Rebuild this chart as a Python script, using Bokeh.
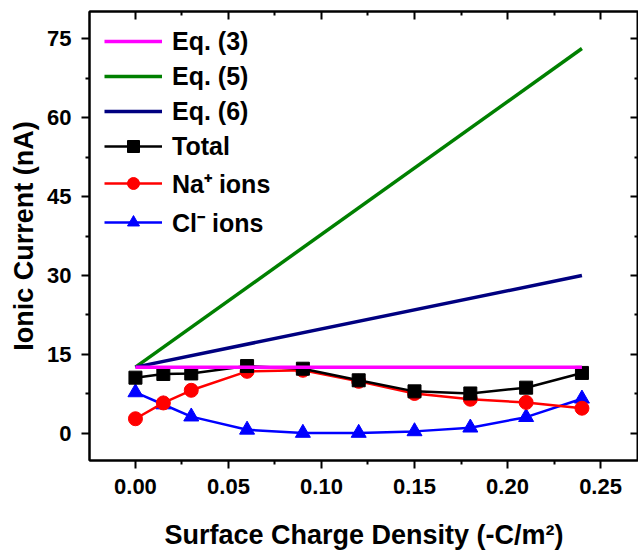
from bokeh.plotting import figure
from bokeh.models import LinearAxis, Legend, LegendItem, FixedTicker, Range1d
from bokeh.embed import file_html
from bokeh.resources import INLINE

# ---- data ----
sigma = [0.0, 0.015, 0.03, 0.06, 0.09, 0.12, 0.15, 0.18, 0.21, 0.24]
total = [10.6, 11.3, 11.4, 12.8, 12.3, 10.1, 8.0, 7.6, 8.7, 11.5]
na_ions = [2.8, 5.8, 8.2, 11.8, 12.0, 9.9, 7.6, 6.5, 5.9, 4.8]
cl_ions = [7.8, 5.5, 3.2, 0.7, 0.1, 0.1, 0.4, 1.1, 3.1, 6.6]
eq_x = [0.0, 0.24]
eq3 = [12.6, 12.6]
eq5 = [12.6, 73.1]
eq6 = [12.6, 30.0]

x_ticks = [0.0, 0.05, 0.10, 0.15, 0.20, 0.25]
x_minor = [0.025, 0.075, 0.125, 0.175, 0.225]
y_ticks = [0, 15, 30, 45, 60, 75]
y_minor = [7.5, 22.5, 37.5, 52.5, 67.5]

FONT = "Liberation Sans"

p = figure(width=638, height=554,
           x_range=Range1d(-0.0247, 0.2704), y_range=Range1d(-5.13, 80.13),
           output_backend="svg", toolbar_location=None,
           min_border_left=89, min_border_right=0, min_border_top=11, min_border_bottom=94)
p.xgrid.visible = False
p.ygrid.visible = False
p.outline_line_color = "black"
p.outline_line_width = 2
p.background_fill_color = "white"

xt = FixedTicker(ticks=x_ticks, minor_ticks=x_minor)
yt = FixedTicker(ticks=y_ticks, minor_ticks=y_minor)

def style_main(ax, ticker):
    ax.ticker = ticker
    ax.axis_line_width = 2
    ax.major_tick_line_width = 2
    ax.minor_tick_line_width = 2
    ax.major_tick_out = 8
    ax.major_tick_in = 0
    ax.minor_tick_out = 4
    ax.minor_tick_in = 0
    ax.major_label_text_font = FONT
    ax.major_label_text_font_style = "bold"
    ax.major_label_text_font_size = "22px"
    ax.major_label_text_color = "black"
    ax.axis_label_text_font = FONT
    ax.axis_label_text_font_style = "bold"
    ax.axis_label_text_font_size = "27px"
    ax.axis_label_text_color = "black"

xa = p.xaxis[0]
ya = p.yaxis[0]
style_main(xa, xt)
style_main(ya, yt)
xa.axis_label = "Surface Charge Density (-C/m²)"
ya.axis_label = "Ionic Current (nA)"
xa.major_label_overrides = {0.0: "0.00", 0.05: "0.05", 0.10: "0.10", 0.15: "0.15", 0.20: "0.20", 0.25: "0.25"}
xa.major_label_standoff = 10
xa.axis_label_standoff = 23
ya.major_label_standoff = 10
ya.axis_label_standoff = 5

def mirror(ticker):
    ax = LinearAxis(ticker=ticker, axis_line_width=2,
                    major_tick_line_width=2, minor_tick_line_width=2,
                    major_tick_in=8, major_tick_out=0, minor_tick_in=4, minor_tick_out=0,
                    major_label_text_color=None, major_label_text_font_size="1px",
                    major_label_standoff=0, axis_label_standoff=0)
    return ax

p.add_layout(mirror(xt), "above")
p.add_layout(mirror(yt), "right")

# data series
lc = p.line(sigma, cl_ions, line_color="#0000FF", line_width=2.5)
sc = p.scatter(sigma, cl_ions, marker="triangle", size=15, fill_color="#0000FF", line_color="#0000FF")
ln = p.line(sigma, na_ions, line_color="#FF0000", line_width=2.5)
sn = p.scatter(sigma, na_ions, marker="circle", size=14, fill_color="#FF0000", line_color="#FF0000")
lt = p.line(sigma, total, line_color="black", line_width=2.5)
st = p.scatter(sigma, total, marker="square", size=13, fill_color="black", line_color="black")

r5 = p.line(eq_x, eq5, line_color="#008000", line_width=3.5)
r6 = p.line(eq_x, eq6, line_color="#000080", line_width=3.5)
r3 = p.line(eq_x, eq3, line_color="#FF00FF", line_width=3.5)

legend = Legend(items=[
    LegendItem(label="Eq. (3)", renderers=[r3]),
    LegendItem(label="Eq. (5)", renderers=[r5]),
    LegendItem(label="Eq. (6)", renderers=[r6]),
    LegendItem(label="Total", renderers=[lt, st]),
    LegendItem(label="Na⁺ ions", renderers=[ln, sn]),
    LegendItem(label="Cl⁻ ions", renderers=[lc, sc]),
], location="top_left")
legend.border_line_color = None
legend.background_fill_alpha = 0
legend.margin = 15
legend.padding = 0
legend.glyph_width = 58
legend.glyph_height = 30
legend.label_height = 30
legend.spacing = 5
legend.label_standoff = 10
legend.label_text_font = FONT
legend.label_text_font_style = "bold"
legend.label_text_font_size = "25px"
legend.label_text_color = "black"
p.add_layout(legend)

open("out.html", "w").write(file_html(p, INLINE))
